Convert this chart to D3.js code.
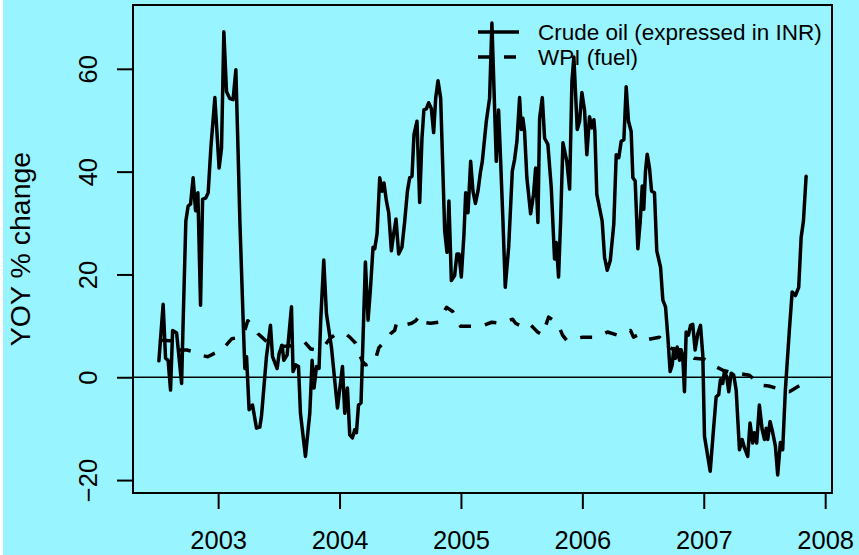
<!DOCTYPE html>
<html>
<head>
<meta charset="utf-8">
<script src="https://cdn.jsdelivr.net/npm/d3@7/dist/d3.min.js"></script>
<style>
  html, body { margin: 0; padding: 0; background: #ffffff; }
  svg { display: block; }
  text { font-family: "Liberation Sans", Arial, Helvetica, sans-serif; fill: #000; }
</style>
</head>
<body>
<svg id="chart" width="859" height="555"></svg>
<script>
// ---- Data (decimal year, YOY % change) ----
const crudeTime = [
  2002.512,2002.547,2002.567,2002.588,2002.608,2002.625,2002.658,2002.699,2002.712,2002.734,
  2002.753,2002.773,2002.794,2002.814,2002.833,2002.855,2002.872,2002.899,2002.918,2002.940,
  2002.973,2003.008,2003.028,2003.047,2003.069,2003.096,2003.123,2003.146,2003.165,2003.179,
  2003.206,2003.220,2003.234,2003.255,2003.283,2003.316,2003.343,2003.357,2003.398,2003.431,
  2003.448,2003.486,2003.502,2003.527,2003.541,2003.568,2003.604,2003.617,2003.640,2003.662,
  2003.678,2003.719,2003.755,2003.774,2003.790,2003.810,2003.831,2003.845,2003.870,2003.892,
  2003.933,2003.983,2004.024,2004.043,2004.065,2004.084,2004.106,2004.125,2004.139,2004.156,
  2004.177,2004.213,2004.235,2004.254,2004.276,2004.290,2004.309,2004.331,2004.350,2004.366,
  2004.386,2004.405,2004.427,2004.446,2004.465,2004.487,2004.514,2004.537,2004.559,2004.578,
  2004.597,2004.613,2004.638,2004.660,2004.679,2004.695,2004.715,2004.734,2004.756,2004.775,
  2004.792,2004.811,2004.833,2004.852,2004.866,2004.885,2004.901,2004.921,2004.948,2004.967,
  2004.984,2005.003,2005.025,2005.039,2005.058,2005.080,2005.099,2005.119,2005.140,2005.160,
  2005.176,2005.209,2005.236,2005.255,2005.272,2005.291,2005.310,2005.327,2005.346,2005.365,
  2005.393,2005.423,2005.442,2005.461,2005.483,2005.497,2005.510,2005.524,2005.543,2005.574,
  2005.598,2005.615,2005.634,2005.648,2005.670,2005.689,2005.716,2005.744,2005.771,2005.785,
  2005.804,2005.821,2005.840,2005.872,2005.895,2005.914,2005.930,2005.958,2005.977,2005.996,
  2006.018,2006.037,2006.059,2006.078,2006.095,2006.103,2006.119,2006.163,2006.183,2006.205,
  2006.230,2006.259,2006.279,2006.300,2006.320,2006.342,2006.361,2006.380,2006.402,2006.416,
  2006.435,2006.457,2006.477,2006.493,2006.506,2006.520,2006.534,2006.553,2006.570,2006.594,
  2006.613,2006.644,2006.663,2006.685,2006.704,2006.723,2006.740,2006.753,2006.767,2006.781,
  2006.800,2006.814,2006.827,2006.841,2006.855,2006.874,2006.891,2006.909,2006.929,2006.951,
  2006.973,2006.992,2007.006,2007.053,2007.080,2007.102,2007.123,2007.137,2007.156,2007.170,
  2007.189,2007.206,2007.226,2007.247,2007.267,2007.294,2007.316,2007.335,2007.362,2007.381,
  2007.403,2007.417,2007.436,2007.458,2007.481,2007.500,2007.514,2007.527,2007.546,2007.568,
  2007.590,2007.609,2007.631,2007.650,2007.672,2007.705,2007.728,2007.755,2007.782,2007.802,
  2007.821,2007.843
];
const crudeValues = [
  3.2,14.2,3.7,3.3,-2.5,9.1,8.6,-1.2,11.0,30.4,
  33.3,33.7,38.8,32.4,35.9,14.0,34.6,34.9,35.9,44.6,
  54.4,40.7,44.6,67.2,55.6,54.2,54.0,59.8,43.3,30.4,
  11.1,1.7,4.0,-6.3,-5.4,-9.9,-9.7,-7.6,4.0,10.1,
  4.0,1.7,4.6,6.2,3.3,4.3,13.7,1.1,2.4,2.1,
  -7.0,-15.4,-7.0,3.3,-2.1,2.1,1.7,11.1,22.8,12.4,
  5.9,-6.0,2.1,-7.0,-2.1,-11.2,-11.8,-10.2,-10.8,-5.4,
  -5.0,22.4,11.1,17.0,25.3,25.0,27.9,38.8,36.2,37.8,
  34.3,32.0,24.6,27.9,30.8,24.0,25.3,30.4,36.2,38.8,
  39.1,47.2,49.8,34.0,46.5,52.0,52.2,53.4,52.3,47.6,
  54.3,57.7,54.3,39.5,28.5,24.3,34.3,18.8,19.8,24.0,
  24.0,19.5,27.9,35.9,32.0,42.0,36.2,33.8,36.2,39.8,
  42.0,49.8,54.3,68.9,56.2,42.0,52.0,42.0,30.4,17.5,
  25.3,40.1,42.4,45.9,54.4,48.2,50.4,47.8,38.8,31.8,
  35.6,40.7,30.1,50.4,54.4,46.5,45.3,36.9,23.0,26.2,
  19.5,30.4,45.6,42.0,36.6,57.5,62.3,48.2,49.8,55.4,
  52.0,43.3,50.7,48.5,50.1,47.8,35.6,30.4,23.3,20.8,
  22.7,29.8,43.3,42.7,45.9,46.2,56.5,49.8,47.8,38.8,
  38.2,25.0,30.4,37.2,32.7,40.1,43.4,40.7,36.2,35.9,
  24.6,21.4,15.0,13.7,7.9,1.1,2.4,5.6,3.7,5.9,
  3.3,5.3,4.0,-2.8,8.8,8.2,10.1,10.3,5.3,8.5,
  10.1,4.3,-11.5,-18.3,-10.2,-3.8,-3.4,-0.5,-1.2,1.1,
  0.1,-2.8,0.8,0.4,-2.5,-14.1,-12.1,-13.7,-15.4,-8.9,
  -12.8,-10.8,-12.8,-5.4,-10.2,-12.1,-9.9,-12.1,-8.6,-10.8,
  -13.4,-19.0,-12.7,-14.1,-2.5,9.1,16.6,15.9,17.5,27.2,
  30.4,39.1
];
const wpiTime = [
  2002.512,2002.627,2002.660,2002.742,2002.825,2002.874,2002.915,2002.956,2003.030,2003.113,
  2003.179,2003.212,2003.244,2003.286,2003.327,2003.360,2003.401,2003.533,2003.672,2003.714,
  2003.763,2003.812,2003.878,2003.919,2003.960,2004.043,2004.084,2004.133,2004.158,2004.191,
  2004.216,2004.290,2004.323,2004.380,2004.421,2004.454,2004.471,2004.520,2004.594,2004.627,
  2004.660,2004.693,2004.751,2004.816,2004.841,2004.882,2004.932,2004.965,2004.998,2005.080,
  2005.129,2005.187,2005.253,2005.319,2005.376,2005.426,2005.450,2005.483,2005.549,2005.590,
  2005.631,2005.672,2005.697,2005.722,2005.796,2005.837,2005.870,2005.936,2006.002,2006.084,
  2006.142,2006.207,2006.290,2006.347,2006.397,2006.421,2006.454,2006.512,2006.570,2006.635,
  2006.677,2006.709,2006.742,2006.825,2006.874,2006.923,2007.006,2007.055,2007.105,2007.154,
  2007.211,2007.274,2007.376,2007.417,2007.450,2007.535,2007.593,2007.648,2007.705,2007.763,
  2007.821,2007.843
];
const wpiValues = [
  7.2,7.1,5.3,5.3,4.8,4.2,4.0,4.5,5.3,7.5,
  7.8,8.5,11.0,10.0,8.5,7.8,6.9,6.0,6.2,6.8,
  5.5,5.3,6.2,7.5,8.2,8.6,7.8,6.6,4.7,3.0,
  2.4,3.0,5.7,7.2,8.5,9.1,10.7,10.1,10.5,11.0,
  12.0,10.7,10.5,10.7,12.0,13.6,12.8,11.0,9.9,9.9,
  9.9,10.1,10.7,10.5,10.9,11.3,10.5,10.1,10.7,9.8,
  8.8,8.2,10.0,11.7,10.5,8.2,7.2,7.5,7.8,7.8,
  8.0,8.8,8.2,8.6,9.1,7.8,8.2,7.2,7.5,7.8,
  6.8,6.0,5.5,5.3,4.5,3.7,3.5,2.8,2.0,1.4,
  1.0,0.8,0.4,-0.5,-1.5,-1.7,-2.1,-2.5,-2.8,-2.0,
  -1.2,-0.5
];
const xTicks = [2003, 2004, 2005, 2006, 2007, 2008];
const yTicks = [-20, 0, 20, 40, 60];
const legendLabels = ["Crude oil (expressed in INR)", "WPI (fuel)"];
const yLabel = "YOY % change";

// ---- Layout ----
const W = 859, H = 555;
const margin = { left: 133, top: 5, right: 27, bottom: 62 };
const bg = "#98F5FF";
const dashPattern = "12,14";

const svg = d3.select("#chart");
svg.append("rect").attr("x", 3).attr("y", 0).attr("width", W - 3).attr("height", H).attr("fill", bg);

const crude = crudeTime.map((t, i) => ({ t, v: crudeValues[i] }));
const wpi = wpiTime.map((t, i) => ({ t, v: wpiValues[i] }));

// R-style 4% extension of data range
function rExtend(ext) { const d = (ext[1] - ext[0]) * 0.04; return [ext[0] - d, ext[1] + d]; }
const xDom = rExtend(d3.extent(crudeTime.concat(wpiTime)));
const yDom = rExtend(d3.extent(crudeValues.concat(wpiValues)));

const x = d3.scaleLinear().domain(xDom).range([margin.left, W - margin.right]);
const y = d3.scaleLinear().domain(yDom).range([H - margin.bottom, margin.top]);

const plotLeft = margin.left, plotRight = W - margin.right;
const plotTop = margin.top, plotBottom = H - margin.bottom;

// zero line
svg.append("line")
  .attr("x1", plotLeft).attr("x2", plotRight)
  .attr("y1", y(0)).attr("y2", y(0))
  .attr("stroke", "#000").attr("stroke-width", 1.6);

const line = d3.line().x(d => x(d.t)).y(d => y(d.v));

svg.append("clipPath").attr("id", "clip").append("rect")
  .attr("x", plotLeft).attr("y", plotTop)
  .attr("width", plotRight - plotLeft).attr("height", plotBottom - plotTop);

const g = svg.append("g").attr("clip-path", "url(#clip)");

g.append("path").datum(wpi)
  .attr("d", line).attr("fill", "none")
  .attr("stroke", "#000").attr("stroke-width", 3.5)
  .attr("stroke-dasharray", dashPattern)
  .attr("stroke-linejoin", "round").attr("stroke-linecap", "butt");

g.append("path").datum(crude)
  .attr("d", line).attr("fill", "none")
  .attr("stroke", "#000").attr("stroke-width", 3.5)
  .attr("stroke-linejoin", "round").attr("stroke-linecap", "round");

// axes (R style)
const xAxis = d3.axisBottom(x).tickValues(xTicks).tickSize(16).tickFormat(d3.format("d"));
const xg = svg.append("g").attr("transform", `translate(0,${plotBottom})`).call(xAxis);
xg.select(".domain").remove();
xg.selectAll(".tick line").attr("stroke", "#000").attr("stroke-width", 2);
xg.selectAll(".tick text")
  .attr("font-size", 25.5).attr("dy", null).attr("y", 549 - plotBottom)
  .style("font-family", "'Liberation Sans', Arial, sans-serif").attr("fill", "#000");

const yAxis = d3.axisLeft(y).tickValues(yTicks).tickSize(16).tickFormat(d => d < 0 ? "\u2212" + Math.abs(d) : d);
const yg = svg.append("g").attr("transform", `translate(${plotLeft},0)`).call(yAxis);
yg.select(".domain").remove();
yg.selectAll(".tick line").attr("stroke", "#000").attr("stroke-width", 2);
yg.selectAll(".tick text")
  .attr("x", null).attr("dy", null)
  .attr("text-anchor", "middle")
  .attr("transform", `translate(${96.7 - plotLeft},0) rotate(-90)`)
  .attr("font-size", 25.5)
  .style("font-family", "'Liberation Sans', Arial, sans-serif").attr("fill", "#000");

// box
svg.append("rect")
  .attr("x", plotLeft).attr("y", plotTop)
  .attr("width", plotRight - plotLeft).attr("height", plotBottom - plotTop)
  .attr("fill", "none").attr("stroke", "#000").attr("stroke-width", 2);

// y label
svg.append("text")
  .attr("transform", `translate(29.5,${(plotTop + plotBottom) / 2}) rotate(-90)`)
  .attr("text-anchor", "middle").attr("font-size", 28.5)
  .text(yLabel);

// legend
const leg = svg.append("g");
const legRows = [
  { label: legendLabels[0], dash: null, ly: 32, ty: 40 },
  { label: legendLabels[1], dash: dashPattern, ly: 57, ty: 65 }
];
legRows.forEach(r => {
  leg.append("line")
    .attr("x1", 478).attr("x2", 519).attr("y1", r.ly).attr("y2", r.ly)
    .attr("stroke", "#000").attr("stroke-width", 3.5)
    .attr("stroke-dasharray", r.dash);
  leg.append("text")
    .attr("x", 538).attr("y", r.ty)
    .attr("font-size", 22.5)
    .text(r.label);
});
</script>
</body>
</html>
